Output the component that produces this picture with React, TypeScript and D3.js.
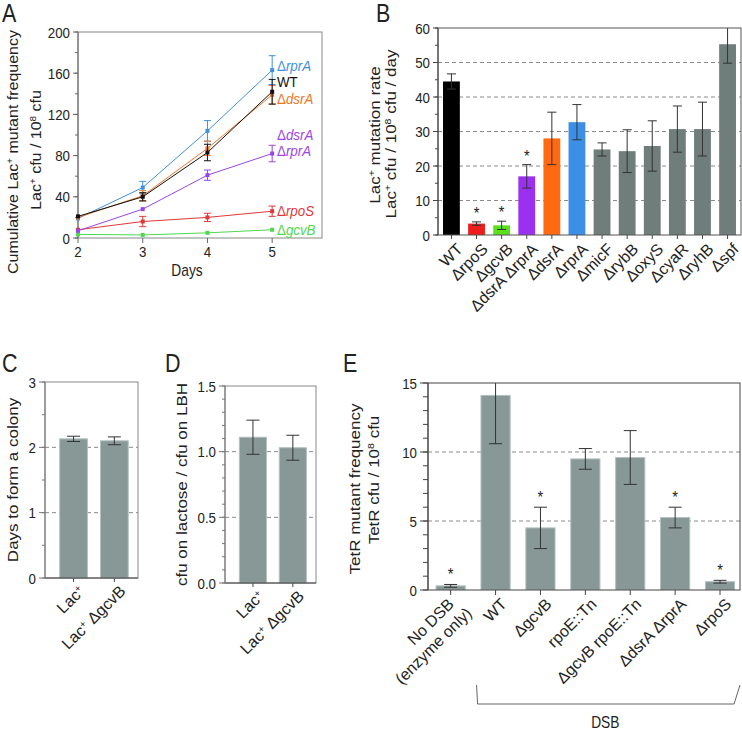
import React from "react";
import * as d3 from "d3";

const FONT = "'Liberation Sans', Arial, Helvetica, sans-serif";
const SX = 0.86; // the figure is squeezed horizontally

// ---- panel A: cumulative Lac+ mutant frequency
const daysA = [2, 3, 4, 5];
const rprAFreq = [19, 49, 104, 163];
const rprAErr = [1, 6, 10, 14];
const wtFreq = [21, 40, 83, 142];
const wtErr = [1, 4, 8, 12];
const dsrAFreq = [20, 41, 87, 139];
const dsrAErr = [1, 5, 7, 9];
const dsrArprAFreq = [7, 28, 61, 82];
const dsrArprAErr = [0.5, 1, 5, 8];
const rpoSFreq = [8, 16, 20, 26];
const rpoSErr = [1, 5, 4, 5];
const gcvBFreq = [3.5, 3, 5, 8];
const gcvBErr = [0.5, 0.5, 1, 1];
const ticksA = [0, 40, 80, 120, 160, 200];

// ---- panel B: Lac+ mutation rate
const strainsB = ["WT", "ΔrpoS", "ΔgcvB", "ΔdsrA ΔrprA", "ΔdsrA", "ΔrprA", "ΔmicF", "ΔrybB", "ΔoxyS", "ΔcyaR", "ΔryhB", "Δspf"];
const rateB = [44.5, 3.3, 2.8, 17, 28, 32.7, 24.8, 24.3, 25.8, 30.7, 30.7, 55.3];
const rateErrB = [2.2, 0.5, 1.2, 3.4, 7.6, 5.1, 1.9, 6.2, 7.3, 6.7, 7.8, 5.5];
const starB = [false, true, true, true, false, false, false, false, false, false, false, false];
const ticksB = [0, 10, 20, 30, 40, 50, 60];
const colorsB = ["#000000", "#ee1c1c", "#5ce01e", "#9b30f0", "#ff6a10", "#3b8fe6"];
const grayB = "#6f7d7b";

// ---- panels C and D
const strainsCD = ["Lac⁺", "Lac⁺ ΔgcvB"];
const daysToColony = [2.13, 2.1];
const daysToColonyErr = [0.04, 0.06];
const ticksC = [0, 1, 2, 3];
const lactoseRatio = [1.11, 1.03];
const lactoseRatioErr = [0.13, 0.095];
const ticksD = [0, 0.5, 1, 1.5];

// ---- panel E: TetR mutant frequency
const strainsE = ["No DSB|(enzyme only)", "WT", "ΔgcvB", "rpoE::Tn", "ΔgcvB rpoE::Tn", "ΔdsrA ΔrprA", "ΔrpoS"];
const tetRFreq = [0.3, 14.1, 4.5, 9.5, 9.6, 5.25, 0.6];
const tetRErr = [0.1, 3.5, 1.5, 0.75, 1.95, 0.75, 0.1];
const starE = [true, false, true, false, false, true, true];
const ticksE = [0, 5, 10, 15];

const barGray = "#879896";
const ink = "#222";

// text squeezed like the original (except the slanted labels)
const T = ({ x, y, rot = 0, size = 15.5, anchor = "start", dy, fill = ink, squeeze = true, children }: any) => (
  <text
    transform={`translate(${x},${y})${squeeze ? ` scale(${SX},1)` : ""}${rot ? ` rotate(${rot})` : ""}`}
    fontSize={size}
    textAnchor={anchor}
    dy={dy}
    fill={fill}
  >
    {children}
  </text>
);

// turns ⁺ and ⁸ into real superscripts
const Rich = ({ s }: { s: string }) => (
  <>
    {s.split(/([⁺⁸])/).map((p, i) =>
      p === "⁺" || p === "⁸" ? (
        <tspan key={i} fontSize="62%" baselineShift="super">
          {p === "⁺" ? "+" : "8"}
        </tspan>
      ) : p ? (
        <tspan key={i}>{p}</tspan>
      ) : null
    )}
  </>
);

// Δ + italic gene name
const Gene = ({ s }: { s: string }) => (
  <>
    {s.split(" ").map((w, i) => (
      <tspan key={i}>
        {i > 0 ? " " : ""}
        {w.startsWith("Δ") ? (
          <>
            Δ<tspan fontStyle="italic">{w.slice(1)}</tspan>
          </>
        ) : (
          w
        )}
      </tspan>
    ))}
  </>
);

const YAxis = ({ scale, x, majors, minorStep, fmt, len = 5, minorLen = 3, color = "#555", gap = 3 }: any) => {
  const [lo, hi] = scale.domain();
  const minors = d3.range(lo, hi + minorStep / 2, minorStep);
  return (
    <g>
      <line x1={x} x2={x} y1={scale(lo)} y2={scale(hi)} stroke={color} />
      {minors.map((v: number) => (
        <line key={"m" + v} x1={x - minorLen} x2={x} y1={scale(v)} y2={scale(v)} stroke={color} />
      ))}
      {majors.map((v: number) => (
        <g key={v}>
          <line x1={x - len} x2={x} y1={scale(v)} y2={scale(v)} stroke={color} />
          <T x={x - len - gap} y={scale(v)} anchor="end" dy="0.36em">
            {fmt(v)}
          </T>
        </g>
      ))}
    </g>
  );
};

const ErrBar = ({ x, y0, y1, w, color = "#333" }: any) => (
  <g stroke={color} strokeWidth={1}>
    <line x1={x} x2={x} y1={y0} y2={y1} />
    <line x1={x - w / 2} x2={x + w / 2} y1={y0} y2={y0} />
    <line x1={x - w / 2} x2={x + w / 2} y1={y1} y2={y1} />
  </g>
);

const Grid = ({ scale, x0, x1, values }: any) => (
  <g stroke="#8a8a8a" strokeDasharray="4,3">
    {values.map((v: number) => (
      <line key={v} x1={x0} x2={x1} y1={scale(v)} y2={scale(v)} />
    ))}
  </g>
);

const Letter = ({ x, y, c }: any) => (
  <T x={x} y={y} size={25}>
    {c}
  </T>
);

const YTitle = ({ x, y, lines, size = 17 }: any) => (
  <g>
    {lines.map((l: string, i: number) => (
      <T key={i} x={x[i]} y={y[i]} rot={-90} size={size} anchor="middle">
        <Rich s={l} />
      </T>
    ))}
  </g>
);

function PanelA() {
  const x = d3.scaleLinear([2, 5.77], [78, 322]);
  const y = d3.scaleLinear([0, 200], [238, 32]);
  const series = [
    { name: "ΔrprA", v: rprAFreq, e: rprAErr, color: "#3f8fe2", lab: [168] },
    { name: "WT", v: wtFreq, e: wtErr, color: "#111111", lab: [152] },
    { name: "ΔdsrA", v: dsrAFreq, e: dsrAErr, color: "#f07525", lab: [136] },
    { name: "ΔdsrA|ΔrprA", v: dsrArprAFreq, e: dsrArprAErr, color: "#9a45ea", lab: [101, 85] },
    { name: "ΔrpoS", v: rpoSFreq, e: rpoSErr, color: "#e03838", lab: [27] },
    { name: "ΔgcvB", v: gcvBFreq, e: gcvBErr, color: "#4ed84e", lab: [8.5] },
  ];
  const line = d3
    .line<number>()
    .x((_, i) => x(daysA[i]))
    .y((d) => y(d));
  // draw order: back to front
  const order = [5, 4, 3, 0, 2, 1];
  return (
    <g>
      <Letter x={2} y={22} c="A" />
      <rect x={78} y={32} width={244} height={206} fill="none" stroke="#888" />
      <YAxis scale={y} x={78} majors={ticksA} minorStep={20} fmt={(v: number) => v} color="#666" />
      {daysA.map((d) => (
        <g key={d}>
          <line x1={x(d)} x2={x(d)} y1={238} y2={243} stroke="#666" />
          <T x={x(d)} y={257} anchor="middle">
            {d}
          </T>
        </g>
      ))}
      <T x={187} y={276} anchor="middle" size={16}>
        Days
      </T>
      <YTitle x={[18, 41]} y={[152, 150]} size={16} lines={["Cumulative Lac⁺ mutant frequency", "Lac⁺ cfu / 10⁸ cfu"]} />
      {order.map((k) => {
        const s = series[k];
        return (
          <g key={s.name}>
            <path d={line(s.v) || ""} fill="none" stroke={s.color} strokeWidth={1} />
            {s.v.map((v, i) => (
              <g key={i}>
                {s.e[i] > 1 && (
                  <ErrBar x={x(daysA[i])} y0={y(v - s.e[i])} y1={y(v + s.e[i])} w={7} color={s.color} />
                )}
                <rect x={x(daysA[i]) - 2} y={y(v) - 2} width={4} height={4} fill={s.color} />
              </g>
            ))}
          </g>
        );
      })}
      {series.map((s) =>
        s.name.split("|").map((nm, j) => (
          <T key={s.name + j} x={277} y={y(s.lab[j])} dy="0.36em" size={15.5} fill={s.color}>
            <Gene s={nm} />
          </T>
        ))
      )}
    </g>
  );
}

function PanelB() {
  const x = d3.scaleBand(strainsB, [438, 741]).paddingInner(0.33).paddingOuter(0.2).align(0.5);
  const y = d3.scaleLinear([0, 60], [235, 28]);
  const bw = x.bandwidth();
  return (
    <g>
      <Letter x={376} y={22} c="B" />
      <defs>
        <clipPath id="clipB">
          <rect x={438} y={28} width={303} height={207} />
        </clipPath>
      </defs>
      <Grid scale={y} x0={438} x1={741} values={[10, 20, 30, 40, 50]} />
      <g clipPath="url(#clipB)">
        {strainsB.map((s, i) => {
          const cx = (x(s) || 0) + bw / 2;
          return (
            <g key={s}>
              <rect x={x(s)} y={y(rateB[i])} width={bw} height={y(0) - y(rateB[i])} fill={colorsB[i] || grayB} />
              <ErrBar x={cx} y0={y(rateB[i] - rateErrB[i])} y1={y(rateB[i] + rateErrB[i])} w={9} />
            </g>
          );
        })}
      </g>
      {strainsB.map((s, i) =>
        starB[i] ? (
          <T key={"s" + s} x={(x(s) || 0) + bw / 2} y={y(rateB[i] + rateErrB[i]) - 3} anchor="middle" size={17}>
            *
          </T>
        ) : null
      )}
      <rect x={438} y={28} width={303} height={207} fill="none" stroke="#555" />
      <YAxis scale={y} x={438} majors={ticksB} minorStep={5} fmt={(v: number) => v} color="#444" />
      {strainsB.map((s) => {
        const cx = (x(s) || 0) + bw / 2;
        return (
          <g key={"t" + s}>
            <line x1={cx} x2={cx} y1={235} y2={239} stroke="#444" />
            <T x={cx + 4} y={242} rot={-45} anchor="end" dy="0.72em" size={16} squeeze={false}>
              {s}
            </T>
          </g>
        );
      })}
      <YTitle x={[380, 396]} y={[135, 134]} lines={["Lac⁺ mutation rate", "Lac⁺ cfu / 10⁸ cfu / day"]} />
    </g>
  );
}

function SmallPanel({ letter, lx, x0, x1, yTop, yBot, values, errs, ticks, minorStep, fmt, grid, title, titleX }: any) {
  const x = d3.scaleBand(strainsCD, [x0, x1]).paddingInner(0.32).paddingOuter(0.3).align(0.6);
  const y = d3.scaleLinear([0, ticks[ticks.length - 1]], [yBot, yTop]);
  const bw = x.bandwidth();
  return (
    <g>
      <Letter x={lx} y={372} c={letter} />
      <Grid scale={y} x0={x0} x1={x1} values={grid} />
      {strainsCD.map((s, i) => {
        const cx = (x(s) || 0) + bw / 2;
        return (
          <g key={s}>
            <rect x={x(s)} y={y(values[i])} width={bw} height={yBot - y(values[i])} fill={barGray} stroke="#b4c1bf" />
            <ErrBar x={cx} y0={y(values[i] - errs[i])} y1={y(values[i] + errs[i])} w={13} />
            <line x1={cx} x2={cx} y1={yBot} y2={yBot + 4} stroke="#444" />
            <T x={cx + 4} y={yBot + 6} rot={-45} anchor="end" dy="0.72em" size={16} squeeze={false}>
              <Rich s={s} />
            </T>
          </g>
        );
      })}
      <rect x={x0} y={yTop} width={x1 - x0} height={yBot - yTop} fill="none" stroke="#888" />
      <line x1={x0} x2={x1} y1={yBot} y2={yBot} stroke="#444" />
      <YAxis scale={y} x={x0} majors={ticks} minorStep={minorStep} fmt={fmt} len={6} color="#777" />
      <YTitle x={[titleX]} y={[(yTop + yBot) / 2]} lines={[title]} />
    </g>
  );
}

function PanelE() {
  const x = d3.scaleBand(strainsE, [428, 740]).paddingInner(0.35).paddingOuter(0.15).align(0.6);
  const y = d3.scaleLinear([0, 15], [590, 383]);
  const bw = x.bandwidth();
  const cx = (s: string) => (x(s) || 0) + bw / 2;
  const bl = cx(strainsE[1]) - 19;
  const br = cx(strainsE[strainsE.length - 1]) + 14;
  return (
    <g>
      <Letter x={343} y={372} c="E" />
      <defs>
        <clipPath id="clipE">
          <rect x={428} y={383} width={312} height={207} />
        </clipPath>
      </defs>
      <Grid scale={y} x0={428} x1={740} values={[5, 10]} />
      <g clipPath="url(#clipE)">
        {strainsE.map((s, i) => (
          <g key={s}>
            <rect x={x(s)} y={y(tetRFreq[i])} width={bw} height={590 - y(tetRFreq[i])} fill={barGray} stroke="#b4c1bf" />
            <ErrBar x={cx(s)} y0={y(tetRFreq[i] - tetRErr[i])} y1={y(tetRFreq[i] + tetRErr[i])} w={13} />
          </g>
        ))}
      </g>
      {strainsE.map((s, i) =>
        starE[i] ? (
          <T key={"s" + s} x={cx(s)} y={y(tetRFreq[i] + tetRErr[i]) - 4} anchor="middle" size={17}>
            *
          </T>
        ) : null
      )}
      <rect x={428} y={383} width={312} height={207} fill="none" stroke="#444" />
      <YAxis scale={y} x={428} majors={ticksE} minorStep={1} fmt={(v: number) => v} len={8} minorLen={5} color="#444" />
      {strainsE.map((s) => {
        const parts = s.split("|");
        return (
          <g key={"t" + s}>
            <line x1={cx(s)} x2={cx(s)} y1={590} y2={595} stroke="#444" />
            {parts.length === 1 ? (
              <T x={cx(s) + 4} y={597} rot={-45} anchor="end" dy="0.72em" size={16} squeeze={false}>
                {s}
              </T>
            ) : (
              <>
                <T x={cx(s) - 4} y={597} rot={-45} anchor="end" dy="0.72em" size={16} squeeze={false}>
                  {parts[0]}
                </T>
                <T x={cx(s) + 14} y={606} rot={-45} anchor="end" dy="0.72em" size={16} squeeze={false}>
                  {parts[1]}
                </T>
              </>
            )}
          </g>
        );
      })}
      <path d={`M${bl},685 L${bl + 1},704 L${br},704 L${br + 6},685`} fill="none" stroke="#666" />
      <T x={(bl + br) / 2} y={728} anchor="middle" size={16}>
        DSB
      </T>
      <YTitle x={[360, 379]} y={[489, 480]} lines={["TetR mutant frequency", "TetR cfu / 10⁸ cfu"]} />
    </g>
  );
}

export default function App() {
  return (
    <svg
      width={742}
      height={730}
      style={{ position: "absolute", left: 0, top: 0, background: "#fff" }}
      fontFamily={FONT}
    >
      <rect width={742} height={730} fill="#fff" />
      <PanelA />
      <PanelB />
      <SmallPanel
        letter="C"
        lx={2}
        x0={45}
        x1={138}
        yTop={382}
        yBot={578}
        values={daysToColony}
        errs={daysToColonyErr}
        ticks={ticksC}
        minorStep={0.5}
        fmt={(v: number) => v}
        grid={[1, 2]}
        title="Days to form a colony"
        titleX={18}
      />
      <SmallPanel
        letter="D"
        lx={165}
        x0={225}
        x1={316}
        yTop={386}
        yBot={583}
        values={lactoseRatio}
        errs={lactoseRatioErr}
        ticks={ticksD}
        minorStep={0.1}
        fmt={(v: number) => v.toFixed(1)}
        grid={[0.5, 1]}
        title="cfu on lactose / cfu on LBH"
        titleX={187}
      />
      <PanelE />
    </svg>
  );
}
